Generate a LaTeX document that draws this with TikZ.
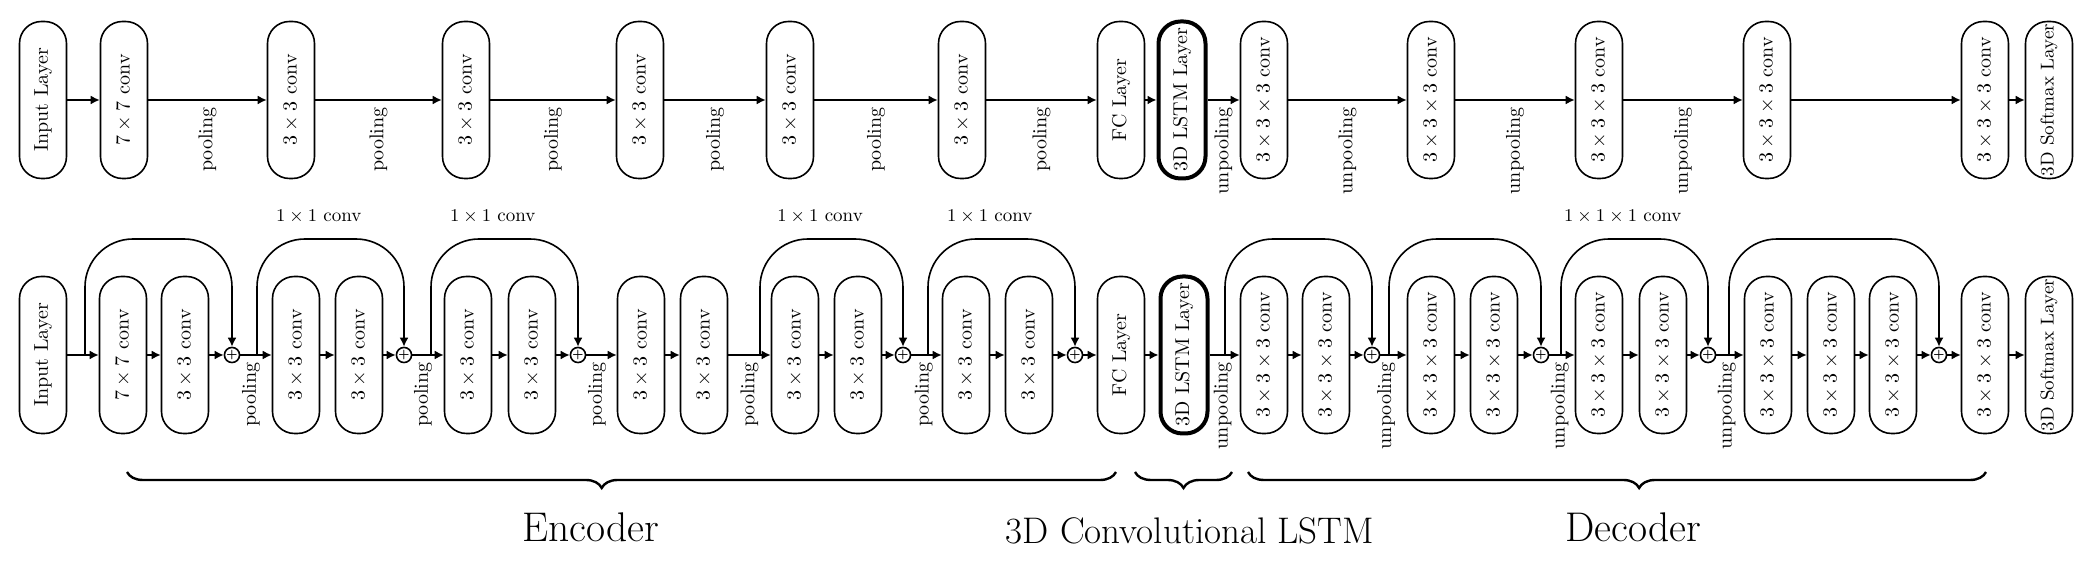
\documentclass[tikz,border=0pt]{standalone}
\usepackage{tikz}
\usetikzlibrary{arrows.meta,decorations.pathreplacing}

\begin{document}
\begin{tikzpicture}[
  x=0.5pt, y=0.5pt,
  font=\fontsize{9.5}{11}\selectfont,
  box/.style={draw, thick, rotate=90, rounded corners=11pt, minimum width=78.5pt, minimum height=23.5pt, inner sep=1pt, font=\normalsize},
  lstm/.style={box, line width=2pt},
  smax/.style={box, font=\fontsize{9.3}{11}\selectfont},
  sumop/.style={draw, thick, circle, inner sep=0pt, minimum size=6.5pt, font=\tiny\bfseries},
  arr/.style={-{Latex[length=4.5pt,width=4.5pt]}, thick},
  resarr/.style={arr, rounded corners=24pt},
  lbl/.style={rotate=90, anchor=east, font=\normalsize},
  grp/.style={decorate, decoration={brace, mirror, amplitude=8pt}, line width=1.2pt},
  big/.style={font=\huge, anchor=base}
]
\useasboundingbox (0,0) rectangle (2090,566);

\node[box]  (t1)  at (43,466)   {Input Layer};
\node[box]  (t2)  at (124,466)  {$7\times7$ conv};
\node[box]  (t3)  at (291,466)  {$3\times3$ conv};
\node[box]  (t4)  at (466,466)  {$3\times3$ conv};
\node[box]  (t5)  at (640,466)  {$3\times3$ conv};
\node[box]  (t6)  at (790,466)  {$3\times3$ conv};
\node[box]  (t7)  at (962,466)  {$3\times3$ conv};
\node[box]  (t8)  at (1121,466) {FC Layer};
\node[lstm] (t9)  at (1182,466) {3D LSTM Layer};
\node[box]  (t10) at (1264,466) {$3\times3\times3$ conv};
\node[box]  (t11) at (1431,466) {$3\times3\times3$ conv};
\node[box]  (t12) at (1599,466) {$3\times3\times3$ conv};
\node[box]  (t13) at (1767,466) {$3\times3\times3$ conv};
\node[box]  (t14) at (1985,466) {$3\times3\times3$ conv};
\node[smax] (t15) at (2049,466) {3D Softmax Layer};
\draw[arr] (t1)--(t2);
\draw[arr] (t2)--node[lbl]{pooling}(t3);
\draw[arr] (t3)--node[lbl]{pooling}(t4);
\draw[arr] (t4)--node[lbl]{pooling}(t5);
\draw[arr] (t5)--node[lbl]{pooling}(t6);
\draw[arr] (t6)--node[lbl]{pooling}(t7);
\draw[arr] (t7)--node[lbl]{pooling}(t8);
\draw[arr] (t8)--(t9);
\draw[arr] (t9)--node[lbl]{unpooling}(t10);
\draw[arr] (t10)--node[lbl]{unpooling}(t11);
\draw[arr] (t11)--node[lbl]{unpooling}(t12);
\draw[arr] (t12)--node[lbl]{unpooling}(t13);
\draw[arr] (t13)--(t14);
\draw[arr] (t14)--(t15);

\node[box]   (b1)  at (43,211)   {Input Layer};
\node[box]   (b2)  at (123,211)  {$7\times7$ conv};
\node[box]   (b3)  at (185,211)  {$3\times3$ conv};
\node[sumop] (p1)  at (232,211)  {+};
\node[box]   (b4)  at (296,211)  {$3\times3$ conv};
\node[box]   (b5)  at (359,211)  {$3\times3$ conv};
\node[sumop] (p2)  at (404,211)  {+};
\node[box]   (b6)  at (468,211)  {$3\times3$ conv};
\node[box]   (b7)  at (532,211)  {$3\times3$ conv};
\node[sumop] (p3)  at (578,211)  {+};
\node[box]   (b8)  at (641,211)  {$3\times3$ conv};
\node[box]   (b9)  at (704,211)  {$3\times3$ conv};
\node[box]   (b10) at (795,211)  {$3\times3$ conv};
\node[box]   (b11) at (858,211)  {$3\times3$ conv};
\node[sumop] (p4)  at (903,211)  {+};
\node[box]   (b12) at (966,211)  {$3\times3$ conv};
\node[box]   (b13) at (1029,211) {$3\times3$ conv};
\node[sumop] (p5)  at (1075,211) {+};
\node[box]   (b14) at (1121,211) {FC Layer};
\node[lstm]  (b15) at (1184,211) {3D LSTM Layer};
\node[box]   (b16) at (1264,211) {$3\times3\times3$ conv};
\node[box]   (b17) at (1326,211) {$3\times3\times3$ conv};
\node[sumop] (p6)  at (1372,211) {+};
\node[box]   (b18) at (1431,211) {$3\times3\times3$ conv};
\node[box]   (b19) at (1494,211) {$3\times3\times3$ conv};
\node[sumop] (p7)  at (1541,211) {+};
\node[box]   (b20) at (1599,211) {$3\times3\times3$ conv};
\node[box]   (b21) at (1663,211) {$3\times3\times3$ conv};
\node[sumop] (p8)  at (1708,211) {+};
\node[box]   (b22) at (1768,211) {$3\times3\times3$ conv};
\node[box]   (b23) at (1831,211) {$3\times3\times3$ conv};
\node[box]   (b24) at (1893,211) {$3\times3\times3$ conv};
\node[sumop] (p9)  at (1939,211) {+};
\node[box]   (b25) at (1985,211) {$3\times3\times3$ conv};
\node[smax]  (b26) at (2049,211) {3D Softmax Layer};
\draw[arr] (b1)--(b2);
\draw[arr] (b2)--(b3);
\draw[arr] (b3)--(p1);
\draw[arr] (p1)--node[lbl,pos=0.34]{pooling}(b4);
\draw[arr] (b4)--(b5);
\draw[arr] (b5)--(p2);
\draw[arr] (p2)--node[lbl,pos=0.34]{pooling}(b6);
\draw[arr] (b6)--(b7);
\draw[arr] (b7)--(p3);
\draw[arr] (p3)--node[lbl,pos=0.35]{pooling}(b8);
\draw[arr] (b8)--(b9);
\draw[arr] (b9)--node[lbl]{pooling}(b10);
\draw[arr] (b10)--(b11);
\draw[arr] (b11)--(p4);
\draw[arr] (p4)--node[lbl,pos=0.41]{pooling}(b12);
\draw[arr] (b12)--(b13);
\draw[arr] (b13)--(p5);
\draw[arr] (p5)--(b14);
\draw[arr] (b14)--(b15);
\draw[arr] (b15)--node[lbl,pos=0.44]{unpooling}(b16);
\draw[arr] (b16)--(b17);
\draw[arr] (b17)--(p6);
\draw[arr] (p6)--node[lbl,pos=0.22]{unpooling}(b18);
\draw[arr] (b18)--(b19);
\draw[arr] (b19)--(p7);
\draw[arr] (p7)--node[lbl,pos=0.41]{unpooling}(b20);
\draw[arr] (b20)--(b21);
\draw[arr] (b21)--(p8);
\draw[arr] (p8)--node[lbl,pos=0.38]{unpooling}(b22);
\draw[arr] (b22)--(b23);
\draw[arr] (b23)--(b24);
\draw[arr] (b24)--(p9);
\draw[arr] (p9)--(b25);
\draw[arr] (b25)--(b26);

\coordinate (s1) at (85,211);
\coordinate (s2) at (257,211);
\coordinate (s3) at (431,211);
\coordinate (s4) at (760,211);
\coordinate (s5) at (928,211);
\coordinate (s6) at (1225,211);
\coordinate (s7) at (1389,211);
\coordinate (s8) at (1561,211);
\coordinate (s9) at (1729,211);
\draw[resarr] (s1)--++(0,116) -| (p1);
\draw[resarr] (s2)--++(0,116) -| node[above=4pt,pos=0.21]{$1\times1$ conv} (p2);
\draw[resarr] (s3)--++(0,116) -| node[above=4pt,pos=0.21]{$1\times1$ conv} (p3);
\draw[resarr] (s4)--++(0,116) -| node[above=4pt,pos=0.21]{$1\times1$ conv} (p4);
\draw[resarr] (s5)--++(0,116) -| node[above=4pt,pos=0.21]{$1\times1$ conv} (p5);
\draw[resarr] (s6)--++(0,116) -| (p6);
\draw[resarr] (s7)--++(0,116) -| (p7);
\draw[resarr] (s8)--++(0,116) -| node[above=4pt,pos=0.21]{$1\times1\times1$ conv} (p8);
\draw[resarr] (s9)--++(0,116) -| (p9);

\coordinate (e0) at (127,94);
\coordinate (e1) at (1116,94);
\coordinate (l0) at (1135,94);
\coordinate (l1) at (1232,94);
\coordinate (d0) at (1248,94);
\coordinate (d1) at (1986,94);
\draw[grp, decoration={aspect=0.48}] (e0)--(e1);
\draw[grp] (l0)--(l1);
\draw[grp, decoration={aspect=0.53}] (d0)--(d1);
\node[big] (enc) at (591,24) {Encoder};
\node[big, font=\fontsize{18.5}{22}\selectfont] (clstm) at (1190,22) {3D Convolutional LSTM};
\node[big] (dec) at (1633,24) {Decoder};
\end{tikzpicture}
\end{document}
